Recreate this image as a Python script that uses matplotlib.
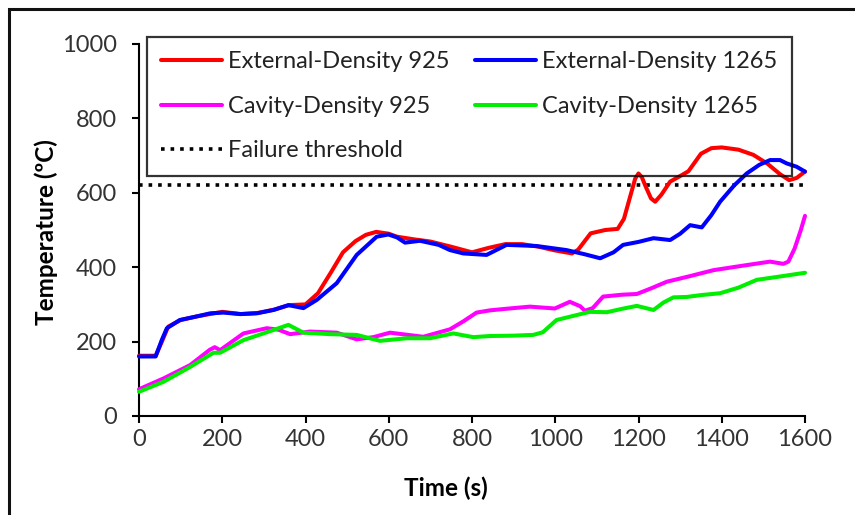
import matplotlib
matplotlib.use("Agg")
import matplotlib.pyplot as plt
from matplotlib.patches import Rectangle

plt.rcParams['font.family'] = ['Lato', 'DejaVu Sans']

# External surface temperature, density 925
t_ext925 = [0, 40, 55, 70, 100, 140, 180, 200, 245, 285, 325, 360, 400, 430, 460, 490,
            520, 545, 570, 600, 620, 660, 700, 750, 800, 840, 880, 920, 960, 1000, 1040,
            1055, 1085, 1120, 1150, 1165, 1180, 1192, 1200, 1208, 1218, 1230, 1240, 1255, 1276,
            1300, 1320, 1350, 1375, 1400, 1440, 1476, 1510, 1540, 1562, 1580, 1600]
y_ext925 = [162, 162, 200, 240, 258, 268, 276, 280, 274, 277, 286, 298, 300, 330, 384, 440,
            470, 487, 495, 490, 482, 475, 469, 455, 440, 452, 462, 462, 455, 445, 437,
            447, 491, 500, 503, 530, 590, 638, 652, 642, 615, 585, 576, 595, 630,
            645, 658, 705, 720, 722, 716, 702, 678, 650, 634, 640, 657]

# External surface temperature, density 1265
t_ext1265 = [0, 40, 55, 67, 98, 140, 171, 203, 243, 283, 323, 359, 395, 427, 475, 523, 571,
             599, 620, 639, 675, 720, 747, 779, 835, 883, 955, 1027, 1070, 1108, 1140, 1163,
             1200, 1236, 1276, 1300, 1324, 1352, 1375, 1396, 1430, 1460, 1490, 1516, 1540,
             1556, 1580, 1600]
y_ext1265 = [160, 160, 205, 236, 258, 268, 276, 278, 274, 276, 285, 298, 290, 312, 357, 433, 482,
             488, 480, 466, 471, 460, 446, 437, 433, 460, 457, 446, 435, 424, 440, 460,
             468, 478, 473, 490, 513, 507, 540, 576, 620, 652, 675, 688, 688,
             679, 670, 657]

# Cavity temperature, density 925
t_cav925 = [0, 59, 123, 170, 182, 195, 251, 307, 335, 363, 411, 475, 523, 563, 603, 683, 747,
            780, 811, 843, 880, 939, 999, 1035, 1060, 1071, 1090, 1115, 1160, 1196, 1230, 1268,
            1320, 1380, 1450, 1516, 1548, 1560, 1575, 1590, 1600]
y_cav925 = [72, 101, 137, 178, 185, 177, 222, 236, 232, 220, 227, 224, 206, 212, 224, 213, 233,
            255, 278, 284, 288, 294, 289, 307, 295, 283, 290, 321, 326, 328, 343, 361,
            375, 392, 404, 415, 409, 415, 450, 500, 538]

# Cavity temperature, density 1265
t_cav1265 = [0, 59, 120, 179, 195, 251, 299, 359, 395, 459, 523, 579, 643, 699, 755, 803, 843,
             900, 947, 970, 1003, 1043, 1083, 1124, 1160, 1196, 1236, 1260, 1284, 1316, 1350,
             1396, 1440, 1484, 1540, 1600]
y_cav1265 = [65, 92, 130, 170, 170, 204, 222, 245, 224, 220, 218, 202, 209, 209, 222, 212, 215,
             216, 218, 225, 258, 269, 280, 279, 288, 296, 285, 305, 319, 320, 325,
             330, 345, 366, 375, 385]

failure_threshold = 620

x_ticks = [0, 200, 400, 600, 800, 1000, 1200, 1400, 1600]
y_ticks = [0, 200, 400, 600, 800, 1000]

fig = plt.figure(figsize=(8.55, 5.15), dpi=100)
ax = fig.add_axes([139 / 855, 1 - 416 / 515, (805 - 139) / 855, (416 - 44) / 515])

lw = 2.9
style = dict(lw=lw, solid_joinstyle='round', solid_capstyle='round', clip_on=False, zorder=3)
l1, = ax.plot(t_ext925, y_ext925, color='#ff0000', label='External-Density 925', **style)
l2, = ax.plot(t_ext1265, y_ext1265, color='#0000ff', label='External-Density 1265', **style)
l3, = ax.plot(t_cav925, y_cav925, color='#ff00ff', label='Cavity-Density 925', **style)
l4, = ax.plot(t_cav1265, y_cav1265, color='#00ee00', label='Cavity-Density 1265', **style)
l5, = ax.plot([0, 1600], [failure_threshold, failure_threshold], color='black', lw=2.6,
              linestyle=':', label='Failure threshold', clip_on=False, zorder=2)

ax.set_xlim(0, 1600)
ax.set_ylim(0, 1000)
ax.set_xticks(x_ticks)
ax.set_yticks(y_ticks)
ax.tick_params(direction='out', length=5, width=1.5, labelsize=17, colors='black',
               labelcolor='#333333')
ax.tick_params(axis='y', pad=11)
ax.tick_params(axis='x', pad=4)
for side in ('top', 'right'):
    ax.spines[side].set_visible(False)
for side in ('left', 'bottom'):
    ax.spines[side].set_linewidth(1.5)

ax.set_xlabel('Time (s)', fontsize=17.5, fontweight='bold', va='center', ha='center')
ax.xaxis.set_label_coords((446 - 139) / 666, (416 - 488) / 372)
ax.set_ylabel('Temperature (ºC)', fontsize=17.5, fontweight='bold', va='center', ha='center')
ax.yaxis.set_label_coords((46 - 139) / 666, (416 - 232) / 372)

leg = fig.legend(handles=[l1, l3, l5, l2, l4], ncol=2, loc='upper left',
                 bbox_to_anchor=(147 / 855, 1 - 37 / 515), bbox_transform=fig.transFigure,
                 fontsize=17, frameon=True, fancybox=False, borderaxespad=0,
                 handlelength=2.58, handletextpad=0.25, columnspacing=1.1,
                 labelspacing=1.0, borderpad=0.6)
leg.get_frame().set_edgecolor('black')
leg.get_frame().set_linewidth(1.6)
leg.get_frame().set_facecolor('none')
leg.set_zorder(1)
for txt in leg.get_texts():
    txt.set_color('#222222')

# outer frame around the figure
fig.patches.append(Rectangle((9 / 855, -0.1), 1.2, 1.1 - 9 / 515, transform=fig.transFigure,
                             fill=False, edgecolor='#111111', lw=2.2))

fig.savefig('out.png', dpi=100)
